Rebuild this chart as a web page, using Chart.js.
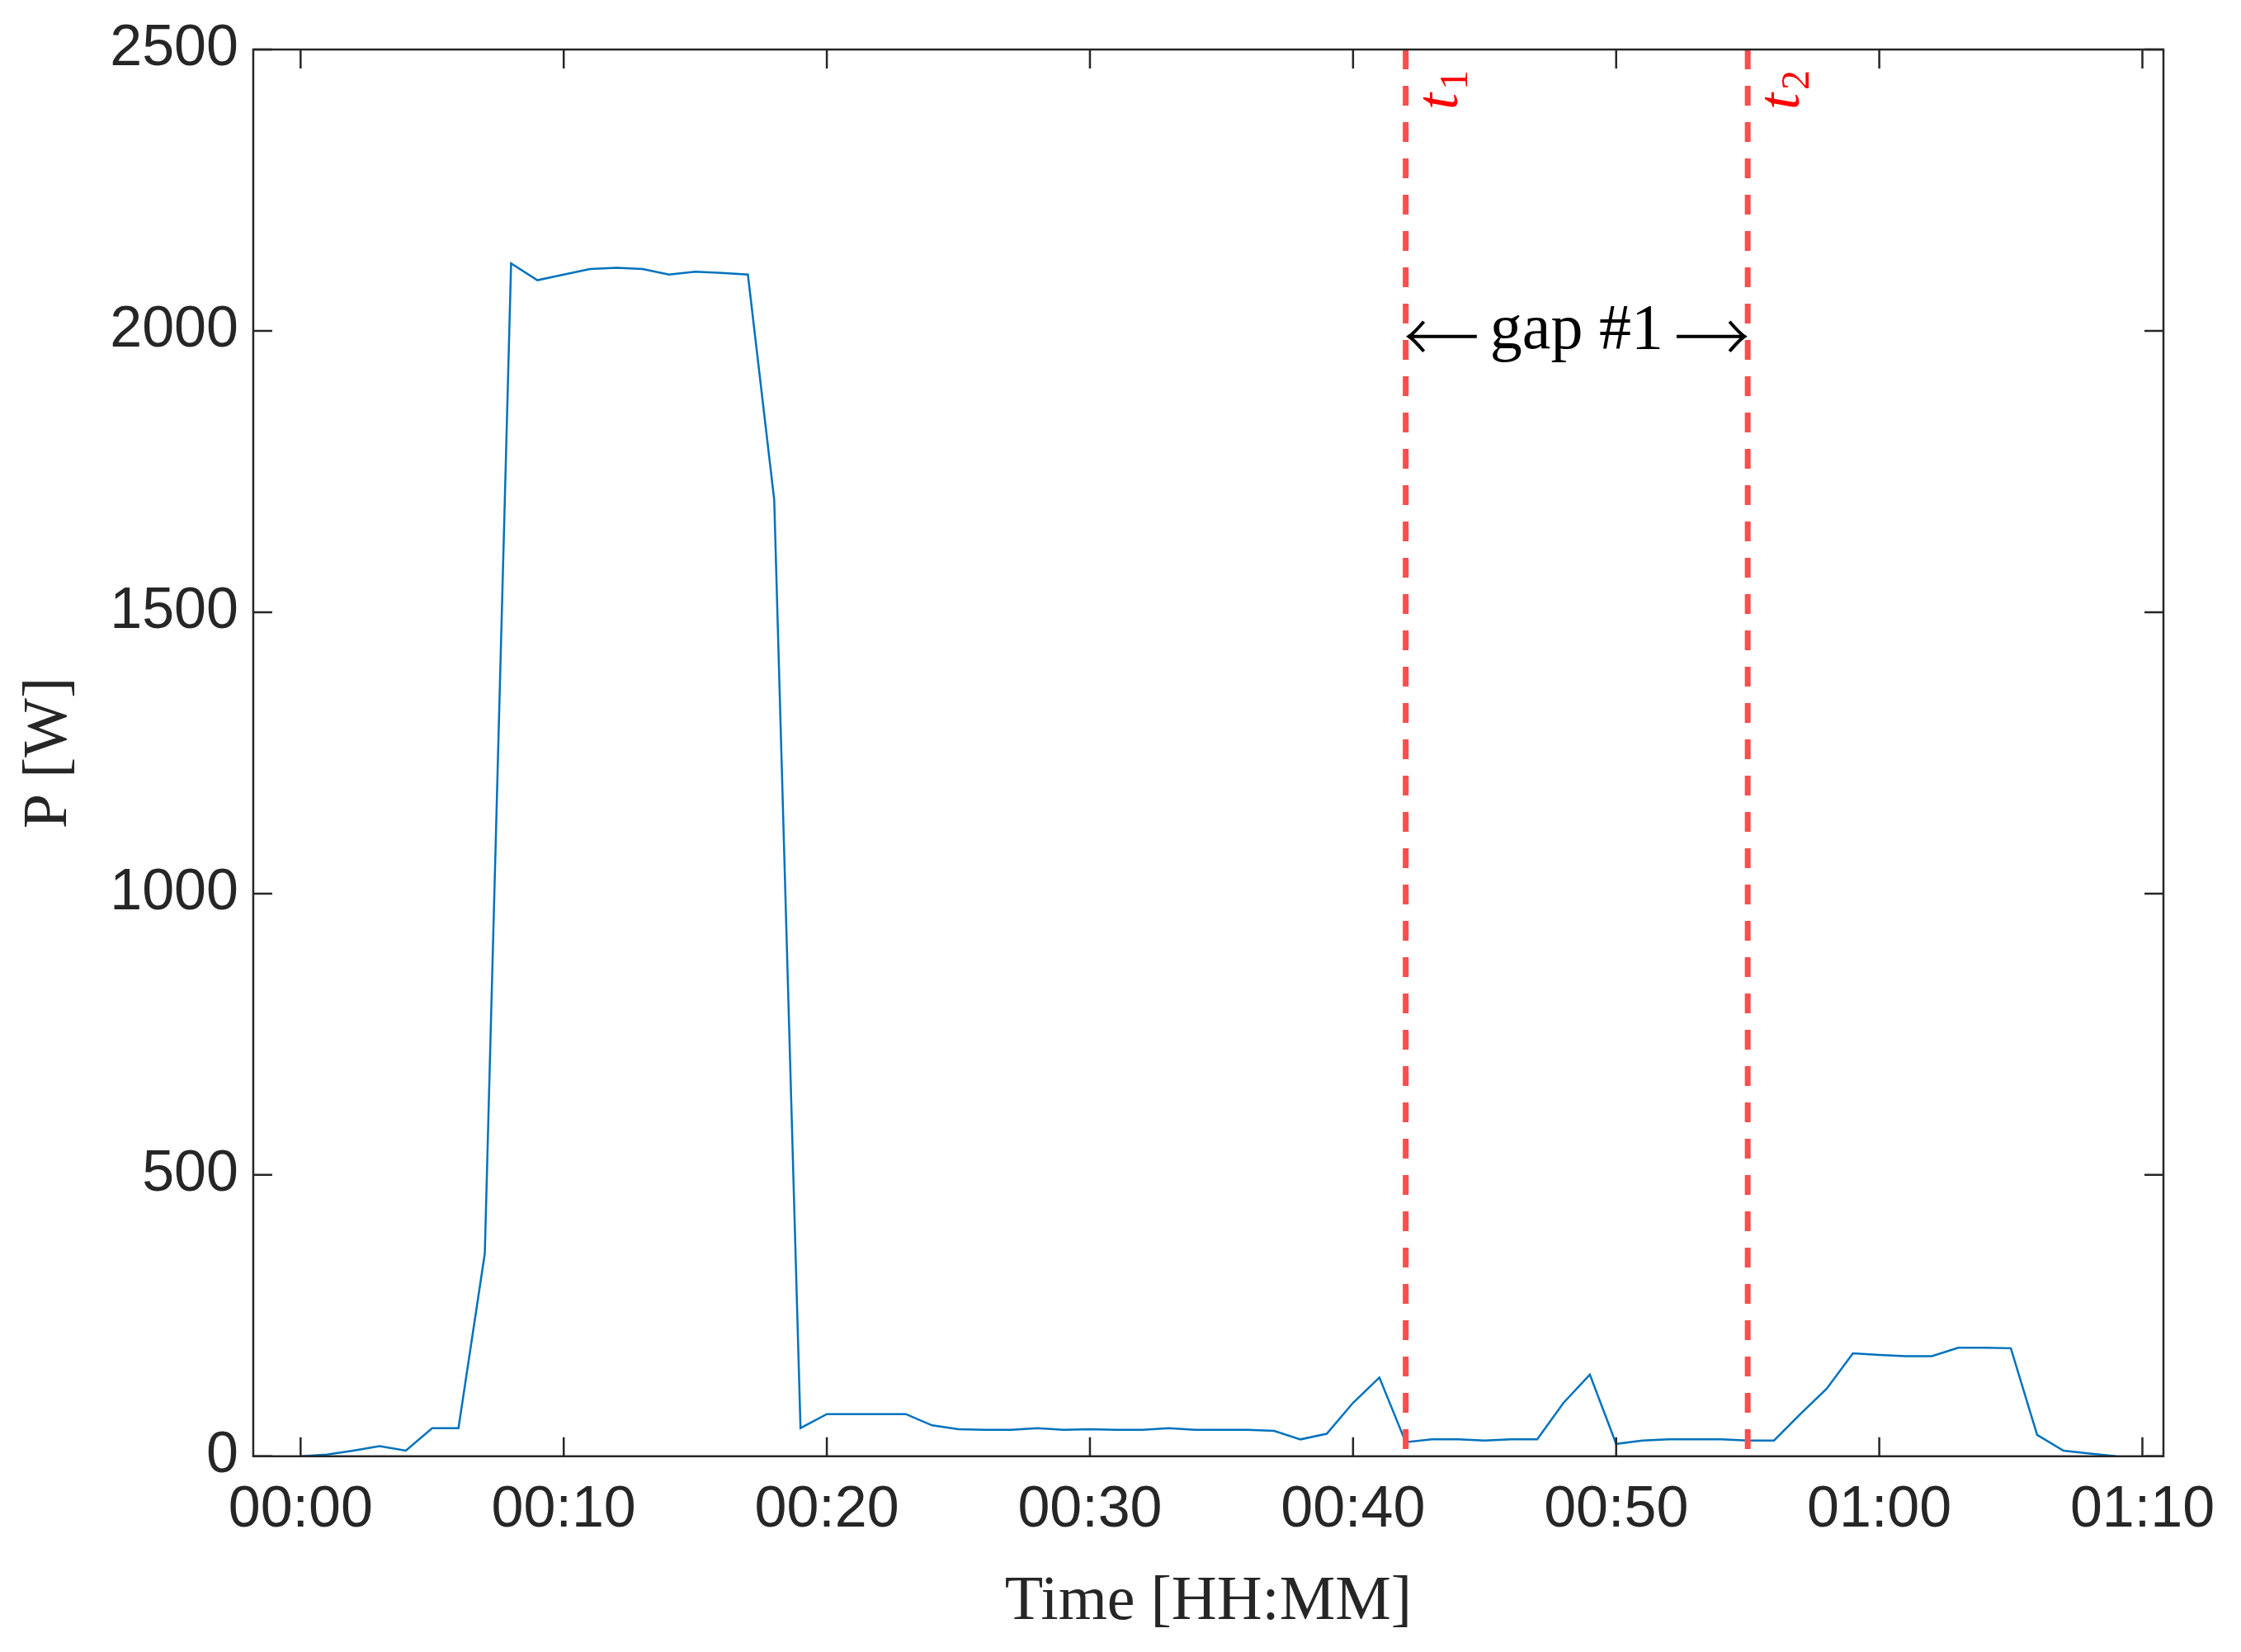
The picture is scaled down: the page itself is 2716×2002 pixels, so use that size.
<!DOCTYPE html>
<html>
<head>
<meta charset="utf-8">
<script src="https://cdn.jsdelivr.net/npm/chart.js@4/dist/chart.umd.min.js"></script>
<style>
  html, body { margin: 0; padding: 0; background: #fff; }
  #wrap { width: 2716px; height: 2002px; }
</style>
</head>
<body>
<div id="wrap"><canvas id="powerChart" width="2716" height="2002"></canvas></div>
<script>
// minutes since start, one sample per minute
var minutes = [];
for (var i = 0; i < 70; i++) minutes.push(i);
var power = [0, 3, 10, 18, 10, 50, 50, 360, 2120, 2090,
             2100, 2110, 2112, 2110, 2100, 2105, 2103, 2100, 1700, 50,
             75, 75, 75, 75, 55, 48, 47, 47, 50, 47,
             48, 47, 47, 50, 47, 47, 47, 45, 30, 40,
             95, 140, 25, 30, 30, 28, 30, 30, 95, 145,
             22, 28, 30, 30, 30, 28, 28, 75, 120, 183,
             180, 178, 178, 193, 193, 192, 38, 10, 5, 0];
var gapMarks = [42, 55];        // t1, t2 in minutes
var gapLabelY = 1990;
var xTicks = [0, 10, 20, 30, 40, 50, 60, 70];
var yTicks = [0, 500, 1000, 1500, 2000, 2500];

function hhmm(m) {
    var h = Math.floor(m / 60), mm = m % 60;
    return (h < 10 ? '0' : '') + h + ':' + (mm < 10 ? '0' : '') + mm;
}

var serif = '"Liberation Serif", "DejaVu Serif", serif';
var sans = '"Liberation Sans", Arial, sans-serif';

// box, mirrored ticks, gap markers
var extras = {
    id: 'extras',
    afterDatasetsDraw: function (chart) {
        var c = chart.ctx, a = chart.chartArea, xs = chart.scales.x, ys = chart.scales.y;
        c.save();
        // red dashed lines + labels
        c.strokeStyle = '#ff4d4d';
        c.lineWidth = 7;
        c.setLineDash([24, 20]);
        gapMarks.forEach(function (m) {
            var px = xs.getPixelForValue(m);
            c.beginPath(); c.moveTo(px, a.top); c.lineTo(px, a.bottom); c.stroke();
        });
        c.setLineDash([]);
        c.fillStyle = '#ff0000';
        gapMarks.forEach(function (m, k) {
            var px = xs.getPixelForValue(m);
            c.save();
            c.translate(px + 62, a.top + 25);
            c.rotate(-Math.PI / 2);
            c.textAlign = 'left';
            c.textBaseline = 'alphabetic';
            c.font = 'italic 72px ' + serif;
            var wt = c.measureText('t').width;
            c.font = '48px ' + serif;
            var ws = c.measureText(String(k + 1)).width;
            var x0 = -(wt + ws + 4);
            c.font = 'italic 72px ' + serif;
            c.fillText('t', x0, 0);
            c.font = '48px ' + serif;
            c.fillText(String(k + 1), x0 + wt + 4, 12);
            c.restore();
        });
        // gap annotation
        var x1 = xs.getPixelForValue(gapMarks[0]), x2 = xs.getPixelForValue(gapMarks[1]);
        var gy = ys.getPixelForValue(gapLabelY);
        c.fillStyle = '#000';
        c.font = '78px ' + serif;
        c.textAlign = 'center';
        c.textBaseline = 'middle';
        c.fillText('gap #1', (x1 + x2) / 2, gy - 6);
        var tw = c.measureText('gap #1').width;
        c.strokeStyle = '#000';
        c.lineWidth = 4;
        var l1 = (x1 + x2) / 2 - tw / 2 - 16, r1 = (x1 + x2) / 2 + tw / 2 + 16;
        c.beginPath();
        c.moveTo(x1 + 4, gy); c.lineTo(l1, gy);
        c.moveTo(x1 + 22, gy - 18); c.quadraticCurveTo(x1 + 10, gy - 4, x1 + 4, gy);
        c.quadraticCurveTo(x1 + 10, gy + 4, x1 + 22, gy + 18);
        c.moveTo(r1, gy); c.lineTo(x2 - 4, gy);
        c.moveTo(x2 - 22, gy - 18); c.quadraticCurveTo(x2 - 10, gy - 4, x2 - 4, gy);
        c.quadraticCurveTo(x2 - 10, gy + 4, x2 - 22, gy + 18);
        c.stroke();
        // box
        c.strokeStyle = '#262626';
        c.lineWidth = 2.5;
        c.strokeRect(a.left, a.top, a.right - a.left, a.bottom - a.top);
        // inner ticks on all sides
        c.beginPath();
        xTicks.forEach(function (t) {
            var px = xs.getPixelForValue(t);
            c.moveTo(px, a.bottom); c.lineTo(px, a.bottom - 23);
            c.moveTo(px, a.top); c.lineTo(px, a.top + 23);
        });
        yTicks.forEach(function (t) {
            var py = ys.getPixelForValue(t);
            c.moveTo(a.left, py); c.lineTo(a.left + 23, py);
            c.moveTo(a.right, py); c.lineTo(a.right - 23, py);
        });
        c.stroke();
        c.restore();
    }
};

var ctx = document.getElementById('powerChart').getContext('2d');
var powerChart = new Chart(ctx, {
    type: 'line',
    data: {
        datasets: [{
            data: minutes.map(function (m, i) { return { x: m, y: power[i] }; }),
            borderColor: '#0072bd',
            borderWidth: 2.5,
            pointRadius: 0,
            tension: 0
        }]
    },
    options: {
        responsive: false,
        animation: false,
        layout: { padding: { top: 30, right: 94, left: 10, bottom: 10 } },
        plugins: { legend: { display: false }, tooltip: { enabled: false } },
        scales: {
            x: {
                type: 'linear',
                min: -1.8, max: 70.8,
                afterBuildTicks: function (ax) { ax.ticks = xTicks.map(function (v) { return { value: v }; }); },
                grid: { display: false, drawTicks: false },
                border: { display: false },
                ticks: {
                    callback: function (v) { return hhmm(v); },
                    color: '#262626', font: { family: sans, size: 70 }, padding: 24, maxRotation: 0
                },
                title: {
                    display: true, text: 'Time [HH:MM]', color: '#262626',
                    font: { family: serif, size: 76 }, padding: { top: 0 }
                }
            },
            y: {
                min: 0, max: 2500,
                afterBuildTicks: function (ax) { ax.ticks = yTicks.map(function (v) { return { value: v }; }); },
                grid: { display: false, drawTicks: false },
                border: { display: false },
                ticks: {
                    callback: function (v) { return String(v); },
                    color: '#262626', font: { family: sans, size: 70 }, padding: 18
                },
                title: {
                    display: true, text: 'P [W]', color: '#262626',
                    font: { family: serif, size: 76 }, padding: { bottom: 10 }
                }
            }
        }
    },
    plugins: [extras]
});
</script>
</body>
</html>
